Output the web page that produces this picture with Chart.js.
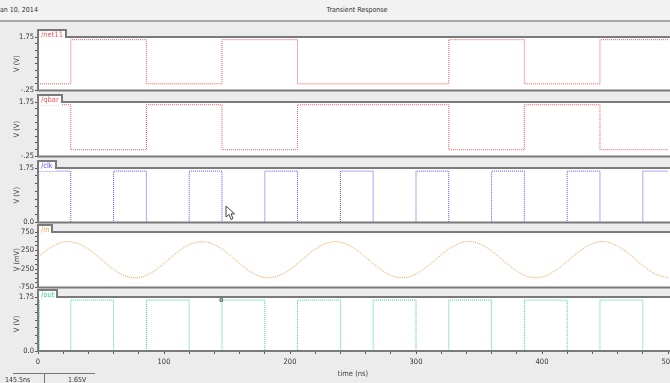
<!DOCTYPE html>
<html>
<head>
<meta charset="utf-8">
<script src="https://cdn.jsdelivr.net/npm/chart.js@4.4.1/dist/chart.umd.min.js"></script>
<style>
html,body{margin:0;padding:0;width:670px;height:383px;overflow:hidden;background:#ececec;}
#wrap{position:relative;width:670px;height:383px;overflow:hidden;background:#ececec;font-family:"DejaVu Sans Condensed","DejaVu Sans",sans-serif;color:#333;}
#titlebar{position:absolute;left:0;top:0;width:670px;height:20px;background:#f2f2f2;border-bottom:2px solid #a6a6a6;}
#date{position:absolute;left:0;top:6px;font-size:7px;line-height:8px;}
#ttl{position:absolute;left:300px;width:114px;top:6px;text-align:center;font-size:7px;line-height:8px;}
canvas{position:absolute;left:0;}
#readout{position:absolute;left:13px;top:373px;width:82px;height:12px;border-top:1px solid #777;font-size:7px;line-height:9px;}
#readout .a{position:absolute;left:-8px;top:2px;}
#readout .sep{position:absolute;left:31px;top:0;width:1px;height:12px;background:#777;}
#readout .b{position:absolute;left:55px;top:2px;}
#cursor{position:absolute;left:225px;top:205px;}
</style>
</head>
<body>
<div id="wrap">
  <div id="titlebar"><div id="date">an 10, 2014</div><div id="ttl">Transient Response</div></div>
  <canvas id="p1" width="690" height="69"></canvas>
  <canvas id="p2" width="690" height="70"></canvas>
  <canvas id="p3" width="690" height="70"></canvas>
  <canvas id="p4" width="690" height="71"></canvas>
  <canvas id="p5" width="690" height="96"></canvas>
  <svg id="cursor" width="10" height="16"><path d="M1 1 L1 12 L4 9.5 L6 14.5 L8 13.5 L6 8.8 L9.5 8.8 Z" fill="#fff" stroke="#444" stroke-width="1"/></svg>
  <div id="readout"><span class="a">145.5ns</span><span class="sep"></span><span class="b">1.65V</span></div>
</div>
<script>
// ---- data ----
const timeMin = 0, timeMax = 500;
const net11Times = [0, 26, 86, 146, 206, 326, 386, 446, 500];
const net11Volts = [0, 1.65, 0, 1.65, 0, 1.65, 0, 1.65, 1.65];
const qbarTimes  = [0, 26, 86, 146, 206, 326, 386, 446, 500];
const qbarVolts  = [1.65, 0, 1.65, 0, 1.65, 0, 1.65, 0, 0];
const clkTimes   = [0, 0.5, 26, 60, 86, 120, 146, 180, 206, 240, 266, 300, 326, 360, 386, 420, 446, 480, 500];
const clkVolts   = [0, 1.65, 0, 1.65, 0, 1.65, 0, 1.65, 0, 1.65, 0, 1.65, 0, 1.65, 0, 1.65, 0, 1.65, 1.65];
const inTimes    = [0,10,20,30,40,50,60,70,80,90,100,110,120,130,140,150,160,170,180,190,200,210,220,230,240,250,260,270,280,290,300,310,320,330,340,350,360,370,380,390,400,410,420,430,440,450,460,470,480,490,500];
const inMillivolts = [70,330,475,455,285,15,-260,-445,-480,-350,-100,185,405,485,405,185,-100,-350,-480,-445,-260,15,285,455,475,330,70,-210,-420,-485,-385,-155,130,370,485,435,235,-45,-305,-465,-465,-305,-45,235,435,485,370,130,-155,-385,-485];
const outTimes   = [0, 0.5, 1, 26, 60, 86, 120, 146, 180, 206, 240, 266, 300, 326, 360, 386, 420, 446, 480, 500];
const outVolts   = [0, 1.65, 0, 1.65, 0, 1.65, 0, 1.65, 0, 1.65, 0, 1.65, 0, 1.65, 0, 1.65, 0, 1.65, 0, 0];
const markerTime = [145.5];
const markerVolts = [1.65];
const logicTickValues = [1.75, -0.25];
const logicTickLabels = ['1.75', '-.25'];
const clkTickValues = [1.75, 0];
const clkTickLabels = ['1.75', '0.0'];
const inTickValues = [750, 250, -250, -750];
const inTickLabels = ['750', '250', '-250', '-750'];
const timeTickValues = [0, 100, 200, 300, 400, 500];
const timeTickLabels = ['0', '100', '200', '300', '400', '500'];

const FONT = '"DejaVu Sans Condensed","DejaVu Sans",sans-serif';
const zip = (ts, vs) => ts.map((t, i) => ({x: t, y: vs[i]}));
const pick = (vals, labs) => (v) => {
  for (let i = 0; i < vals.length; i++) if (Math.abs(v - vals[i]) < 1e-6 * Math.max(1, Math.abs(vals[i]))) return labs[i];
  return '';
};

const panelPlugin = {
  id: 'panel',
  beforeDraw(chart) {
    const a = chart.chartArea, ctx = chart.ctx;
    ctx.save();
    ctx.fillStyle = '#ffffff';
    ctx.fillRect(a.left, a.top, a.right - a.left + 30, a.bottom - a.top);
    ctx.restore();
  },
  afterDraw(chart, args, opts) {
    const a = chart.chartArea, ctx = chart.ctx;
    ctx.save();
    ctx.font = '7.5px ' + FONT;
    const w = ctx.measureText(opts.label).width;
    const tabR = Math.round(a.left + 3 + w + 3);
    ctx.fillStyle = '#ffffff';
    ctx.fillRect(a.left, a.top - 7, tabR - a.left, 10);
    ctx.strokeStyle = '#7a7a7a';
    ctx.lineWidth = 2;
    ctx.beginPath();
    ctx.moveTo(a.left, a.top - 7); ctx.lineTo(tabR, a.top - 7); ctx.lineTo(tabR, a.top);
    ctx.lineTo(a.right + 30, a.top);
    ctx.moveTo(a.left, a.top - 8); ctx.lineTo(a.left, a.bottom);
    ctx.lineTo(a.right + 30, a.bottom);
    ctx.stroke();
    ctx.fillStyle = opts.color;
    ctx.textBaseline = 'middle';
    ctx.fillText(opts.label, a.left + 3, a.top - 2);
    ctx.restore();
  }
};

function yScale(min, max, step, vals, labs, title) {
  return {
    type: 'linear', min: min, max: max,
    afterFit(s) { s.width = 38; },
    ticks: {stepSize: step, autoSkip: false, padding: 1, color: '#333', font: {family: FONT, size: 7.5}, callback: pick(vals, labs)},
    grid: {drawOnChartArea: false, drawTicks: true, tickLength: 3, color: '#555'},
    border: {display: false},
    title: {display: true, text: title, color: '#444', font: {family: FONT, size: 7.5}, padding: {top: 13, bottom: 0}}
  };
}

function xScale(show) {
  return {
    type: 'linear', min: timeMin, max: timeMax, display: show,
    afterFit(s) { s.height = show ? 28 : 0; },
    ticks: {stepSize: 20, autoSkip: false, maxRotation: 0, padding: 4, color: '#333', font: {family: FONT, size: 7.5}, callback: pick(timeTickValues, timeTickLabels)},
    grid: {drawOnChartArea: false, drawTicks: true, tickLength: 3, color: '#555'},
    border: {display: false},
    title: {display: true, text: 'time (ns)', color: '#444', font: {family: FONT, size: 7.5}, padding: {top: 0, bottom: 0}}
  };
}

function stepSet(pts, color) {
  return {data: pts, borderColor: color, borderWidth: 1, borderDash: [1, 1], pointRadius: 0, stepped: 'before', fill: false};
}

function panel(id, top, pad, datasets, y, showX, label, color) {
  const cv = document.getElementById(id);
  cv.style.top = (top - 10) + 'px';
  new Chart(cv, {
    type: 'line',
    data: {datasets: datasets},
    options: {
      responsive: false, animation: false, devicePixelRatio: 1,
      layout: {padding: {left: 0, right: 22, top: 10, bottom: pad}},
      scales: {x: xScale(showX), y: y},
      plugins: {legend: {display: false}, tooltip: {enabled: false}, panel: {label: label, color: color}}
    },
    plugins: [panelPlugin]
  });
}

const RED = 'rgb(240,88,88)', BLUE = 'rgb(80,80,255)', ORANGE = 'rgb(245,160,80)', GREEN = 'rgb(50,215,140)';

panel('p1', 37, 5, [stepSet(zip(net11Times, net11Volts), RED)],
  yScale(-0.25, 1.75, 0.25, logicTickValues, logicTickLabels, 'V (V)'), false, '/net11', RED);
panel('p2', 102, 5, [stepSet(zip(qbarTimes, qbarVolts), RED)],
  yScale(-0.25, 1.75, 0.25, logicTickValues, logicTickLabels, 'V (V)'), false, '/qbar', RED);
panel('p3', 168, 5, [stepSet(zip(clkTimes, clkVolts), BLUE)],
  yScale(0, 1.75, 0.25, clkTickValues, clkTickLabels, 'V (V)'), false, '/clk', BLUE);
panel('p4', 232, 5, [{data: zip(inTimes, inMillivolts), borderColor: ORANGE, borderWidth: 1, borderDash: [1, 1], pointRadius: 0, tension: 0.4, fill: false}],
  yScale(-750, 750, 125, inTickValues, inTickLabels, 'V (mV)'), false, '/in', ORANGE);
panel('p5', 297, 4, [stepSet(zip(outTimes, outVolts), GREEN),
  {type: 'scatter', data: zip(markerTime, markerVolts), pointStyle: 'rect', pointRadius: 1.8, pointBackgroundColor: '#fff', pointBorderColor: '#444', pointBorderWidth: 1, showLine: false}],
  yScale(0, 1.75, 0.25, clkTickValues, clkTickLabels, 'V (V)'), true, '/out', GREEN);
</script>
</body>
</html>
